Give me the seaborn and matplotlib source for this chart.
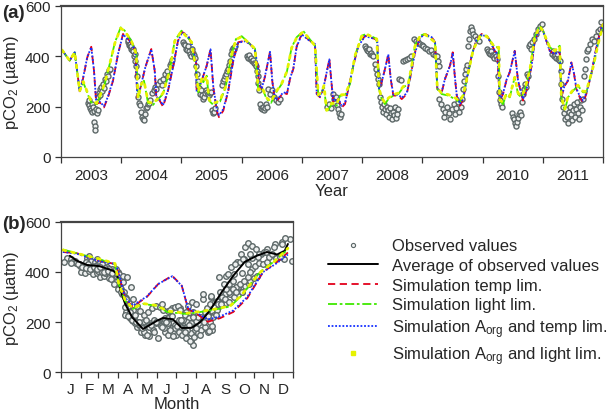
"""
Seasonal pCO2: observed values vs. four model runs (time series + climatology).
"""
import matplotlib
matplotlib.use("Agg")
import matplotlib.pyplot as plt
from matplotlib.lines import Line2D
import seaborn as sns
import numpy as np

# ---- model runs, time series (decimal year, uatm) ----
temp_t = [2003.017, 2003.144, 2003.228, 2003.311, 2003.365, 2003.437, 2003.503, 2003.548, 2003.586, 2003.643, 2003.714, 2003.780, 2003.864, 2003.947,
          2004.030, 2004.141, 2004.234, 2004.267, 2004.307, 2004.400, 2004.500, 2004.556, 2004.583, 2004.639, 2004.694, 2004.777, 2004.860, 2004.943,
          2005.009, 2005.114, 2005.197, 2005.242, 2005.253, 2005.308, 2005.420, 2005.483, 2005.529, 2005.586, 2005.624, 2005.695, 2005.778, 2005.861, 2005.944,
          2006.055, 2006.139, 2006.222, 2006.266, 2006.288, 2006.333, 2006.388, 2006.471, 2006.509, 2006.554, 2006.608, 2006.692, 2006.752, 2006.803, 2006.858, 2006.914, 2006.997,
          2007.135, 2007.218, 2007.246, 2007.301, 2007.356, 2007.456, 2007.496, 2007.523, 2007.605, 2007.661, 2007.716, 2007.771, 2007.854, 2007.937,
          2008.048, 2008.214, 2008.252, 2008.281, 2008.325, 2008.380, 2008.435, 2008.475, 2008.518, 2008.601, 2008.658, 2008.741, 2008.795, 2008.878, 2008.961,
          2009.045, 2009.156, 2009.211, 2009.249, 2009.322, 2009.377, 2009.460, 2009.505, 2009.543, 2009.571, 2009.626, 2009.681, 2009.737, 2009.820, 2009.903, 2009.986,
          2010.091, 2010.202, 2010.245, 2010.285, 2010.340, 2010.395, 2010.451, 2010.534, 2010.589, 2010.644, 2010.672, 2010.727, 2010.810, 2010.866, 2010.949,
          2011.004, 2011.115, 2011.198, 2011.281, 2011.308, 2011.364, 2011.419, 2011.474, 2011.519, 2011.557, 2011.613, 2011.668, 2011.723, 2011.806, 2011.889, 2011.972, 2012.000]
temp_v = [425, 383, 416, 261, 310, 396, 438, 343, 210, 217, 197, 237, 303, 409,
          489, 462, 422, 237, 263, 356, 429, 343, 237, 224, 200, 263, 356, 462,
          497, 482, 429, 376, 257, 283, 363, 429, 277, 184, 158, 184, 263, 383, 456,
          462, 449, 422, 363, 290, 270, 320, 419, 300, 224, 230, 255, 250, 310, 350, 440, 489,
          462, 449, 250, 237, 270, 389, 283, 217, 230, 197, 210, 270, 363, 442,
          482, 469, 462, 270, 297, 350, 409, 310, 244, 244, 230, 250, 310, 416, 476,
          489, 476, 456, 270, 257, 310, 363, 416, 310, 244, 204, 230, 310, 403, 469, 489,
          476, 422, 409, 224, 250, 303, 337, 422, 303, 250, 224, 263, 356, 462, 515,
          502, 422, 409, 416, 237, 283, 303, 376, 330, 270, 237, 217, 250, 330, 436, 515, 529]
aorg_temp_v = [425, 383, 416, 262, 312, 398, 436, 345, 214, 220, 202, 240, 305, 409,
               487, 462, 422, 240, 265, 356, 428, 345, 240, 228, 206, 266, 356, 460,
               495, 480, 429, 376, 259, 285, 363, 428, 280, 190, 166, 190, 266, 383, 454,
               460, 449, 422, 363, 292, 272, 322, 418, 302, 228, 233, 257, 253, 312, 352, 438, 487,
               460, 449, 252, 240, 272, 388, 285, 222, 233, 203, 214, 272, 363, 440,
               480, 469, 462, 272, 298, 350, 408, 312, 248, 248, 235, 254, 312, 414, 474,
               487, 476, 456, 272, 259, 312, 363, 414, 312, 248, 210, 234, 312, 403, 467, 487,
               474, 422, 409, 228, 252, 305, 337, 420, 305, 254, 230, 266, 356, 460, 512,
               500, 422, 409, 416, 240, 285, 305, 374, 332, 273, 242, 224, 254, 332, 434, 512, 524]

light_t = [2003.017, 2003.144, 2003.228, 2003.311, 2003.370, 2003.453, 2003.503, 2003.593, 2003.648, 2003.726, 2003.820, 2003.897, 2003.991,
           2004.058, 2004.167, 2004.250, 2004.279, 2004.337, 2004.378, 2004.445, 2004.528, 2004.611, 2004.694, 2004.805, 2004.888,
           2005.001, 2005.170, 2005.242, 2005.280, 2005.337, 2005.363, 2005.420, 2005.458, 2005.529, 2005.640, 2005.732, 2005.835, 2005.906,
           2006.001, 2006.139, 2006.222, 2006.277, 2006.338, 2006.416, 2006.488, 2006.582, 2006.665, 2006.752, 2006.831, 2006.914,
           2007.024, 2007.218, 2007.273, 2007.329, 2007.367, 2007.412, 2007.496, 2007.578, 2007.633, 2007.716, 2007.799, 2007.882, 2007.993,
           2008.076, 2008.243, 2008.281, 2008.325, 2008.380, 2008.435, 2008.518, 2008.601, 2008.684, 2008.767, 2008.824, 2008.878, 2008.961,
           2009.045, 2009.211, 2009.249, 2009.322, 2009.432, 2009.543, 2009.626, 2009.681, 2009.764, 2009.847, 2009.958,
           2010.069, 2010.202, 2010.268, 2010.285, 2010.340, 2010.395, 2010.451, 2010.534, 2010.589, 2010.644, 2010.700, 2010.783, 2010.866, 2010.949,
           2011.004, 2011.115, 2011.198, 2011.281, 2011.308, 2011.364, 2011.419, 2011.502, 2011.585, 2011.668, 2011.723, 2011.834, 2011.917, 2012.000]
light_v = [425, 383, 416, 261, 297, 244, 217, 210, 240, 290, 380, 456, 515,
           502, 462, 409, 230, 290, 303, 215, 207, 230, 250, 343, 462,
           502, 456, 350, 257, 310, 297, 323, 224, 207, 220, 275, 410, 469,
           480, 449, 430, 263, 275, 230, 215, 260, 290, 340, 436, 476,
           500, 442, 244, 257, 283, 178, 210, 204, 244, 244, 290, 403, 482,
           489, 469, 270, 230, 210, 230, 244, 250, 277, 290, 363, 442, 482,
           489, 456, 270, 250, 244, 230, 217, 244, 337, 429, 482,
           482, 436, 436, 224, 210, 250, 237, 317, 250, 237, 263, 343, 476, 522,
           502, 436, 422, 442, 237, 184, 237, 263, 283, 257, 257, 356, 449, 529]
aorg_light_v = [425, 383, 416, 262, 300, 248, 222, 214, 244, 292, 380, 454, 512,
                500, 462, 409, 234, 292, 303, 220, 212, 234, 253, 343, 460,
                500, 456, 350, 260, 310, 298, 322, 228, 212, 225, 278, 408, 467,
                478, 449, 430, 266, 277, 235, 220, 263, 292, 340, 434, 474,
                498, 442, 247, 259, 284, 185, 214, 209, 247, 248, 292, 402, 480,
                487, 469, 272, 235, 216, 234, 248, 254, 280, 292, 363, 440, 480,
                487, 456, 272, 254, 248, 235, 222, 248, 337, 428, 480,
                480, 436, 436, 228, 216, 252, 241, 317, 254, 242, 266, 343, 474, 519,
                500, 436, 422, 440, 240, 190, 241, 266, 285, 261, 261, 356, 447, 526]

# ---- observations: day of year and value, one list per year ----
obs_years = [2003, 2004, 2005, 2006, 2007, 2008, 2009, 2010, 2011]
obs_doy = [
    [164, 168, 172, 176, 180, 186, 190, 194, 198, 202, 205, 208, 212, 218, 222, 226, 230, 234, 238, 242, 248, 254, 260, 266, 272, 278, 284, 290, 296],
    [41, 44, 47, 53, 56, 59, 62, 65, 70, 72, 78, 81, 84, 90, 96, 102, 108,
     114, 120, 126, 132, 138, 144, 150, 156, 163, 169, 175,
     187, 200, 206, 212, 224, 236, 248, 254, 266, 279, 285, 297, 303, 309],
    [10, 16, 22, 28, 34, 40, 46, 52, 58, 64, 70, 76, 82, 88, 95, 101, 107, 113,
     119, 125, 131, 137, 143, 149, 155, 161, 168, 174, 180, 186, 192, 198, 204,
     246, 252, 258, 264, 270, 276, 282, 288, 294, 300, 306, 312, 318, 324],
    [32, 38, 44, 50, 56, 62, 68, 75, 81, 87, 93, 99, 102, 105, 111, 117, 123, 129, 135, 141, 147, 153, 159, 171, 184, 196, 208, 220, 232],
    [152, 164, 176, 188, 195, 201, 207, 213, 219, 225, 231, 237],
    [18, 24, 30, 36, 42, 48, 54, 60, 66, 78, 84, 90, 96, 102,
     108, 115, 121, 127, 133, 139, 145, 151, 157, 163, 169, 175, 181, 187, 193, 199, 205, 211, 218,
     224, 236, 248, 260, 272, 285, 297, 315, 327, 339, 351, 363],
    [4, 16, 28, 41, 53, 65, 77, 89, 95, 98,
     101, 113, 125, 131, 138, 150, 162, 168, 180, 192, 198, 204, 216, 222, 235, 241,
     247, 253, 259, 265, 271, 277, 283, 289, 295, 301, 307, 320, 332, 344],
    [27, 33, 39, 45, 52, 58, 64, 70, 76, 82, 88, 94, 100, 106, 112, 118,
     179, 185, 191, 197, 203, 209, 215, 221, 227, 233,
     239, 245, 252, 258, 264, 270, 276, 282, 288, 294, 300, 312, 324, 336, 348, 361],
    [56, 62, 68, 74, 80, 86, 92, 98, 104, 110, 113,
     116, 122, 128, 135, 141, 147, 153, 159, 165, 171, 177, 183, 189, 195, 201, 207, 213, 219, 225, 231, 238, 244,
     250, 256, 262, 268, 274, 286, 298, 310, 322, 335, 347, 353],
]
obs_val = [
    [215, 205, 225, 195, 185, 210, 178, 200, 182, 140, 125, 108, 190, 175, 185, 240, 255, 270, 245, 280, 262, 290, 275, 310, 300, 330, 320, 345, 350],
    [455, 465, 445, 440, 450, 430, 440, 425, 430, 420, 400, 410, 380, 360, 320, 240, 215,
     205, 180, 160, 150, 145, 170, 195, 200, 210, 215, 225,
     255, 265, 280, 270, 290, 300, 285, 310, 330, 340, 320, 365, 375, 385],
    [455, 450, 445, 430, 425, 440, 420, 410, 400, 430, 415, 405, 395, 360, 330, 300, 275, 250,
     265, 245, 230, 240, 255, 265, 260, 250, 245, 255, 260, 185, 175, 180, 195,
     285, 300, 310, 320, 330, 340, 350, 365, 380, 410, 425, 435, 430, 440],
    [400, 395, 405, 390, 395, 380, 385, 375, 370, 360, 340, 320, 295, 265, 210, 195, 190, 200, 185, 195, 210, 200, 270, 250, 265, 240, 225, 220, 230],
    [200, 210, 195, 250, 230, 215, 240, 205, 190, 175, 160, 170],
    [440, 435, 425, 420, 430, 410, 415, 405, 400, 370, 350, 330, 310, 290,
     240, 220, 200, 180, 210, 190, 170, 200, 185, 160, 195, 175, 150, 180, 165, 200, 155, 170, 190,
     310, 305, 380, 385, 390, 395, 400, 470, 460, 455, 450, 445],
    [440, 435, 430, 420, 425, 410, 405, 400, 380, 360,
     230, 210, 190, 160, 180, 200, 175, 150, 190, 210, 170, 195, 220, 180, 200, 230,
     270, 300, 330, 350, 365, 440, 470, 500, 515, 505, 490, 480, 470, 460],
    [430, 420, 415, 410, 420, 405, 400, 395, 410, 400, 390, 320, 260, 225, 210, 200,
     175, 160, 150, 135, 125, 140, 155, 170, 180, 165,
     220, 250, 270, 290, 280, 330, 320, 440, 450, 430, 455, 470, 490, 510, 520, 530],
    [410, 420, 400, 405, 395, 410, 390, 385, 380, 340, 290,
     230, 200, 175, 150, 190, 160, 135, 180, 200, 170, 145, 185, 210, 160, 190, 220, 175, 150, 200, 225, 185, 230,
     320, 350, 390, 420, 430, 450, 470, 460, 480, 500, 510, 535],
]

# ---- climatology panel (day of year) ----
avg_doy = [14, 25, 41, 61, 82, 88, 93, 101, 112, 129, 151, 160, 176, 190, 206, 219, 234, 253, 271, 289, 308, 324, 340, 352, 357]
avg_v = [465, 445, 428, 423, 405, 392, 332, 272, 219, 172, 205, 216, 211, 176, 177, 200, 245, 320, 385, 440, 465, 480, 470, 485, 512]
clim_temp_doy = [3, 25, 61, 85, 90, 101, 113, 135, 153, 175, 190, 200, 214, 231, 250, 271, 293, 318, 340, 357]
clim_temp_v = [480, 475, 445, 432, 400, 292, 262, 300, 352, 385, 345, 252, 232, 201, 215, 240, 295, 400, 440, 478]
clim_aorg_temp_v = [480, 473, 443, 432, 405, 296, 266, 302, 352, 383, 345, 255, 236, 210, 222, 246, 300, 400, 436, 470]
clim_light_doy = [3, 61, 85, 91, 101, 113, 129, 151, 167, 198, 219, 239, 266, 282, 313, 334, 357]
clim_light_v = [490, 450, 432, 350, 285, 252, 272, 265, 240, 232, 240, 248, 262, 300, 400, 440, 490]
clim_aorg_light_v = [488, 452, 434, 352, 288, 255, 274, 266, 244, 235, 242, 250, 264, 302, 398, 438, 495]

month_edges = [0, 31, 59, 90, 120, 151, 181, 212, 243, 273, 304, 334, 365]
month_labels = ["J", "F", "M", "A", "M", "J", "J", "A", "S", "O", "N", "D"]

RED, GREEN, BLUE, YELLOW = "#e3001b", "#3fe800", "#1530ff", "#e6f200"
OBS_FACE, OBS_EDGE = "#eef0f0", "#5d6868"

sns.set_theme(style="ticks")
plt.rcParams["font.family"] = ["Liberation Sans", "DejaVu Sans"]
plt.rcParams["mathtext.fontset"] = "custom"
plt.rcParams["mathtext.rm"] = "Liberation Sans"
plt.rcParams["mathtext.it"] = "Liberation Sans:italic"

fig = plt.figure(figsize=(6.08, 4.14), dpi=100)
ax_a = fig.add_axes([0.1003, 0.6184, 0.8915, 0.3647])
ax_b = fig.add_axes([0.1003, 0.0990, 0.3816, 0.3624])


def draw_runs(ax, t_temp, v_temp, v_aorg_temp, t_light, v_light, v_aorg_light):
    sns.lineplot(x=t_temp, y=v_temp, sort=False, estimator=None, ax=ax,
                 color=RED, lw=1.3, linestyle=(0, (4, 2.5)))
    sns.lineplot(x=t_light, y=v_light, sort=False, estimator=None, ax=ax,
                 color=GREEN, lw=1.3, linestyle=(0, (5, 1.5, 1.5, 1.5)))
    sns.lineplot(x=t_temp, y=v_aorg_temp, sort=False, estimator=None, ax=ax,
                 color=BLUE, lw=1.3, linestyle=(0, (1, 1)))
    sns.lineplot(x=t_light, y=v_aorg_light, sort=False, estimator=None, ax=ax,
                 color=YELLOW, lw=2.0, linestyle=(0, (1, 2.2)), dash_capstyle="round")


# (a) time series
obs_t_all, obs_v_all, obs_d_all = [], [], []
for yr, doys, vals in zip(obs_years, obs_doy, obs_val):
    obs_t_all += [yr + d / 365.0 for d in doys]
    obs_d_all += list(doys)
    obs_v_all += list(vals)

sns.scatterplot(x=obs_t_all, y=obs_v_all, ax=ax_a, s=13, color=OBS_FACE,
                edgecolor=OBS_EDGE, linewidth=1.0, zorder=2)
draw_runs(ax_a, temp_t, temp_v, aorg_temp_v, light_t, light_v, aorg_light_v)

ax_a.set_xlim(2003, 2012)
ax_a.set_xticks(np.arange(2003, 2013))
ax_a.set_xticklabels([])
ax_a.set_xticks([y + 0.5 for y in obs_years], minor=True)
ax_a.set_xticklabels([str(y) for y in obs_years], minor=True)
ax_a.tick_params(axis="x", which="minor", length=0, pad=8)
ax_a.set_xlabel("Year", fontsize=12, labelpad=1)

# (b) climatology
sns.scatterplot(x=obs_d_all, y=obs_v_all, ax=ax_b, s=16, color=OBS_FACE,
                edgecolor=OBS_EDGE, linewidth=1.0, zorder=2)
sns.lineplot(x=avg_doy, y=avg_v, sort=False, estimator=None, ax=ax_b, color="black", lw=1.4)
draw_runs(ax_b, clim_temp_doy, clim_temp_v, clim_aorg_temp_v,
          clim_light_doy, clim_light_v, clim_aorg_light_v)

ax_b.set_xlim(0, 365)
ax_b.set_xticks(month_edges)
ax_b.set_xticklabels([])
ax_b.set_xticks([(a + b) / 2 for a, b in zip(month_edges[:-1], month_edges[1:])], minor=True)
ax_b.set_xticklabels(month_labels, minor=True)
ax_b.tick_params(axis="x", which="minor", length=0, pad=7)
ax_b.set_xlabel("Month", fontsize=12, labelpad=0)

for ax in (ax_a, ax_b):
    ax.set_ylim(0, 600)
    ax.set_yticks([0, 200, 400, 600])
    ax.set_ylabel("pCO$_2$ (µatm)", fontsize=12, labelpad=3)
    ax.tick_params(axis="both", which="major", labelsize=11, length=4, width=0.9,
                   color="#333333", direction="out")
    ax.tick_params(axis="x", which="minor", labelsize=11)
    for side in ax.spines.values():
        side.set_color("#444444")
        side.set_linewidth(0.9)
    ax.spines["top"].set_linewidth(1.6)

fig.text(0.004, 0.988, "(a)", fontsize=13.5, fontweight="bold", va="top")
fig.text(0.004, 0.478, "(b)", fontsize=13.5, fontweight="bold", va="top")

handles = [
    Line2D([], [], marker="o", ls="none", markersize=3, markerfacecolor=OBS_FACE,
           markeredgecolor=OBS_EDGE, markeredgewidth=0.8),
    Line2D([], [], color="black", lw=1.4),
    Line2D([], [], color=RED, lw=1.3, linestyle=(0, (4, 2.5))),
    Line2D([], [], color=GREEN, lw=1.3, linestyle=(0, (5, 1.5, 1.5, 1.5))),
    Line2D([], [], color=BLUE, lw=1.3, linestyle=(0, (1, 1))),
    Line2D([], [], marker="s", ls="none", markersize=2.5, color=YELLOW),
]
labels = ["Observed values", "Average of observed values", "Simulation temp lim.",
          "Simulation light lim.", "Simulation A$_{\\mathrm{org}}$ and temp lim.",
          "Simulation A$_{\\mathrm{org}}$ and light lim."]
fig.legend(handles, labels, loc="upper left", bbox_to_anchor=(0.528, 0.438),
           frameon=False, fontsize=12, handlelength=3.0, handletextpad=0.85,
           labelspacing=0.28, borderaxespad=0)

fig.savefig("out.png", dpi=100)
